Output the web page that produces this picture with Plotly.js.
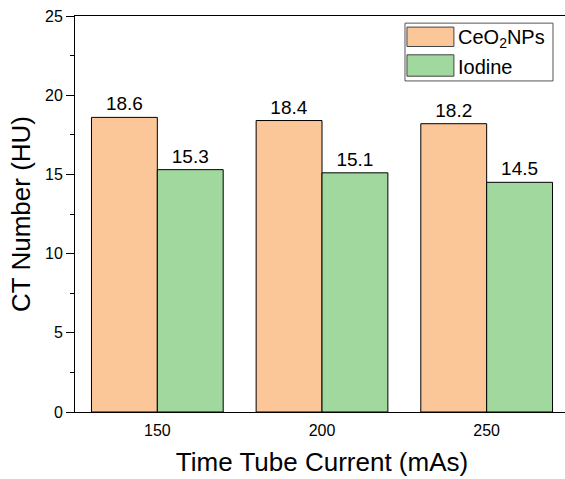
<!DOCTYPE html>
<html>
<head>
<meta charset="utf-8">
<script src="https://cdn.plot.ly/plotly-3.0.1.min.js"></script>
<style>
html,body{margin:0;padding:0;overflow:hidden;background:#fff;}
#chart{width:575px;height:479px;}
</style>
</head>
<body>
<div id="chart"></div>
<script>
const categories = ['150', '200', '250'];
const ceo2Values = [18.6, 18.4, 18.2];
const iodineValues = [15.3, 15.1, 14.5];
const seriesNames = ['CeO<sub>2</sub>NPs', 'Iodine'];
const seriesColors = ['#FBC799', '#A0D89E'];

const FONT = 'Arial, "Liberation Sans", sans-serif';

function barTrace(vals, i) {
  return {
    type: 'bar',
    x: categories,
    y: vals,
    name: seriesNames[i],
    marker: {color: seriesColors[i], line: {color: '#000', width: 1}},
    text: vals.map(v => v.toFixed(1)),
    textposition: 'outside',
    textfont: {family: FONT, size: 19, color: '#000'},
    cliponaxis: false,
    hoverinfo: 'x+y'
  };
}

const data = [barTrace(ceo2Values, 0), barTrace(iodineValues, 1)];

// custom legend (wide swatches like the original)
const L = {x0: 0.668, x1: 0.9676, y0: 0.836, y1: 0.982};
const sw = [
  {x0: 0.672, x1: 0.767, y0: 0.923, y1: 0.972},
  {x0: 0.672, x1: 0.767, y0: 0.848, y1: 0.902}
];
const shapes = [
  {type: 'rect', xref: 'paper', yref: 'paper', x0: L.x0, x1: L.x1, y0: L.y0, y1: L.y1,
   line: {color: '#555', width: 1}, fillcolor: 'rgba(255,255,255,1)', layer: 'above'}
];
const annotations = [];
sw.forEach((s, i) => {
  shapes.push({type: 'rect', xref: 'paper', yref: 'paper', x0: s.x0, x1: s.x1, y0: s.y0, y1: s.y1,
    line: {color: '#444', width: 1}, fillcolor: seriesColors[i], layer: 'above'});
  annotations.push({xref: 'paper', yref: 'paper', x: 0.772, y: (s.y0 + s.y1) / 2 - 0.004,
    xanchor: 'left', yanchor: 'middle', text: seriesNames[i], showarrow: false,
    font: {family: FONT, size: 20, color: '#000'}});
});

const layout = {
  width: 575,
  height: 479,
  margin: {l: 75, r: 6, t: 16, b: 67},
  paper_bgcolor: '#fff',
  plot_bgcolor: '#fff',
  showlegend: false,
  barmode: 'group',
  bargap: 0.2,
  bargroupgap: 0,
  font: {family: FONT, color: '#000'},
  xaxis: {
    type: 'category',
    showline: true, mirror: true, linecolor: '#000', linewidth: 1,
    ticks: '', showgrid: false, zeroline: false,
    tickfont: {size: 16, color: '#000'},
    ticklabelstandoff: 4,
    title: {text: 'Time Tube Current (mAs)', font: {size: 26, color: '#000'}, standoff: 14},
    automargin: false
  },
  yaxis: {
    range: [0, 25],
    dtick: 5,
    showline: true, mirror: true, linecolor: '#000', linewidth: 1,
    ticks: 'outside', ticklen: 8, tickwidth: 1, tickcolor: '#000',
    minor: {dtick: 2.5, ticks: 'outside', ticklen: 4, tickcolor: '#000', showgrid: false},
    showgrid: false, zeroline: false,
    tickfont: {size: 16, color: '#000'},
    title: {text: 'CT Number (HU)', font: {size: 26, color: '#000'}, standoff: 6},
    automargin: false
  },
  shapes: shapes,
  annotations: annotations
};

Plotly.newPlot('chart', data, layout, {displayModeBar: false, staticPlot: true});
</script>
</body>
</html>
